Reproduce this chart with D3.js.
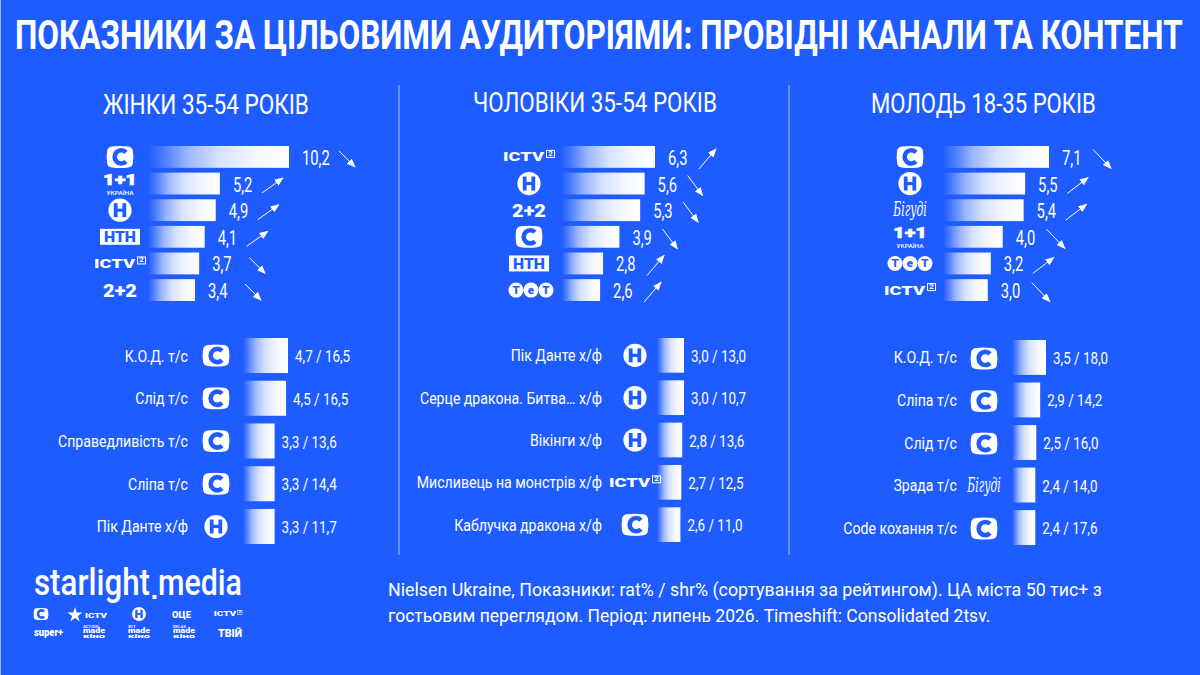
<!DOCTYPE html>
<html><head><meta charset="utf-8">
<script src="https://cdn.jsdelivr.net/npm/d3@7"></script>
<style>html,body{margin:0;padding:0;background:#1f5cff;overflow:hidden}svg{display:block}text{font-family:Roboto,sans-serif;fill:#fff}</style>
</head><body><svg id="c" width="1200" height="675"></svg>
<script>
const chartTitle="ПОКАЗНИКИ ЗА ЦІЛЬОВИМИ АУДИТОРІЯМИ: ПРОВІДНІ КАНАЛИ ТА КОНТЕНТ";
const audiences=["ЖІНКИ 35-54 РОКІВ","ЧОЛОВІКИ 35-54 РОКІВ","МОЛОДЬ 18-35 РОКІВ"];
const womenChannels=["С","1+1","Н","НТН","ICTV2","2+2"];
const womenRatings=[10.2,5.2,4.9,4.1,3.7,3.4];
const womenTrends=["down","up","up","up","down","down"];
const menChannels=["ICTV2","Н","2+2","С","НТН","ТЕТ"];
const menRatings=[6.3,5.6,5.3,3.9,2.8,2.6];
const menTrends=["up","down","down","down","up","up"];
const youthChannels=["С","Н","Бігуді","1+1","ТЕТ","ICTV2"];
const youthRatings=[7.1,5.5,5.4,4.0,3.2,3.0];
const youthTrends=["down","up","up","down","up","down"];
const womenTitles=["К.О.Д. т/с","Слід т/с","Справедливість т/с","Сліпа т/с","Пік Данте х/ф"];
const womenTitleChannels=["С","С","С","С","Н"];
const womenTitleRat=[4.7,4.5,3.3,3.3,3.3];
const womenTitleShr=[16.5,16.5,13.6,14.4,11.7];
const menTitles=["Пік Данте х/ф","Серце дракона. Битва… х/ф","Вікінги х/ф","Мисливець на монстрів х/ф","Каблучка дракона х/ф"];
const menTitleChannels=["Н","Н","Н","ICTV2","С"];
const menTitleRat=[3.0,3.0,2.8,2.7,2.6];
const menTitleShr=[13.0,10.7,13.6,12.5,11.0];
const youthTitles=["К.О.Д. т/с","Сліпа т/с","Слід т/с","Зрада т/с","Code кохання т/с"];
const youthTitleChannels=["С","С","С","Бігуді","С"];
const youthTitleRat=[3.5,2.9,2.5,2.4,2.4];
const youthTitleShr=[18.0,14.2,16.0,14.0,17.6];
const footnoteLines=["Nielsen Ukraine, Показники: rat% / shr% (сортування за рейтингом). ЦА міста 50 тис+ з","гостьовим переглядом. Період: липень 2026. Timeshift: Consolidated 2tsv."];

const BLUE="#1f5cff";
const svg=d3.select("#c");
const fmt=v=>v.toFixed(1).replace(".",",");

const defs=svg.append("defs");
const gr=defs.append("linearGradient").attr("id","fade");
[[0,0],[.12,.22],[.28,.55],[.5,.82],[.75,.95],[1,1]].forEach(([o,a])=>gr.append("stop").attr("offset",o).attr("stop-color","#fff").attr("stop-opacity",a));
const mk=defs.append("marker").attr("id","head").attr("markerUnits","userSpaceOnUse").attr("viewBox","0 0 10 10").attr("refX",9).attr("refY",5).attr("markerWidth",9).attr("markerHeight",9).attr("orient","auto");
mk.append("path").attr("d","M0,1L10,5L0,9Z").attr("fill","#fff");

function fitText(p,str,x,y,width,size,weight,anchor){
  const t=p.append("text").text(str).attr("font-size",size).attr("font-weight",weight||400);
  const w=t.node().getComputedTextLength();
  const sx=width/w;
  t.attr("text-anchor",anchor||"start").attr("transform",`translate(${x},${y}) scale(${sx},1)`);
  return t;
}
function sText(p,str,x,y,size,sx,anchor,weight){
  return p.append("text").text(str).attr("font-size",size).attr("font-weight",weight||400)
    .attr("text-anchor",anchor||"start").attr("transform",`translate(${x},${y}) scale(${sx},1)`);
}

function logo(parent,name,cx,cy,k){
  const g=parent.append("g").attr("transform",`translate(${cx},${cy}) scale(${k||1})`);
  if(name==="С"){
    g.append("path").attr("fill","#fff").attr("d","M-8,-10.5Q0,-11.5 8,-10.5Q13,-10 13,-5Q13.8,0 13,5Q13,10 8,10.5Q0,11.5 -8,10.5Q-13,10 -13,5Q-13.8,0 -13,-5Q-13,-10 -8,-10.5Z");
    g.append("path").attr("fill","none").attr("stroke",BLUE).attr("stroke-width",4.6).attr("d","M6,-4.6A6.6,6.6 0 1 0 6,4.6");
  } else if(name==="Н"){
    g.append("circle").attr("r",11.6).attr("fill","#fff");
    g.append("rect").attr("x",-6.2).attr("y",-7).attr("width",3.8).attr("height",14).attr("fill",BLUE);
    g.append("rect").attr("x",2.4).attr("y",-7).attr("width",3.8).attr("height",14).attr("fill",BLUE);
    g.append("rect").attr("x",-3).attr("y",-1.6).attr("width",6).attr("height",3.2).attr("fill",BLUE);
  } else if(name==="НТН"){
    g.append("rect").attr("x",-20).attr("y",-8).attr("width",40).attr("height",16).attr("fill","#fff");
    fitText(g,"НТН",0,5.5,32,15,900,"middle").style("fill",BLUE);
  } else if(name==="1+1"){
    fitText(g,"1+1",0,1.5,34,15.5,900,"middle").attr("stroke","#fff").attr("stroke-width",.6);
    fitText(g,"УКРАЇНА",0,11,27,5,500,"middle");
  } else if(name==="ICTV2"){
    fitText(g,"ICTV",-26,4.5,41,12,900);
    g.append("rect").attr("x",17.5).attr("y",-6.5).attr("width",8).attr("height",7).attr("fill","none").attr("stroke","#fff").attr("stroke-width",1);
    fitText(g,"2",21.5,-1,4.5,7,700,"middle");
  } else if(name==="2+2"){
    fitText(g,"2+2",0,6.5,34,18.5,900,"middle");
  } else if(name==="ТЕТ"){
    [-15,0,15].forEach((dx,i)=>{
      g.append("circle").attr("cx",dx).attr("r",7.5).attr("fill","#fff");
      g.append("text").text(i===1?"е":"Т").attr("x",dx).attr("y",4).attr("font-size",11.5).attr("font-weight",900).attr("text-anchor","middle").style("fill",BLUE);
    });
  } else if(name==="Бігуді"){
    fitText(g,"Бігуді",0,6,28,21,400,"middle").attr("font-style","italic").style("font-family","'DejaVu Serif',serif");
  }
  return g;
}

fitText(svg,chartTitle,15,49,1168,41,700);
svg.append("rect").attr("width",1).attr("height",675).attr("fill","#9fb6e8");

const panels=[
 {h:[103,114,206],ch:womenChannels,r:womenRatings,tr:womenTrends,logoX:120,x0:148,topMax:141,upDx:42,upW:21,upH:15,dnDx:50,dnW:16,dnH:16,
  titles:womenTitles,tc:womenTitleChannels,tr2:womenTitleRat,ts:womenTitleShr,labelX:188,lgX:216,bx0:243,bMax:45,lo:[338,544]},
 {h:[473,112,244],ch:menChannels,r:menRatings,tr:menTrends,logoX:529,x0:561.5,topMax:93.5,upDx:44,upW:17,upH:20,dnDx:43,dnW:15,dnH:20,
  titles:menTitles,tc:menTitleChannels,tr2:menTitleRat,ts:menTitleShr,labelX:602,lgX:635,bx0:657,bMax:27,lo:[338,542]},
 {h:[871,113,225],ch:youthChannels,r:youthRatings,tr:youthTrends,logoX:910,x0:943,topMax:106,upDx:42,upW:21,upH:16,dnDx:44,dnW:18,dnH:19,
  titles:youthTitles,tc:youthTitleChannels,tr2:youthTitleRat,ts:youthTitleShr,labelX:957,lgX:984,bx0:1012,bMax:34,lo:[340,545]}
];

panels.forEach((p,idx)=>{
  const g=svg.append("g");
  fitText(g,audiences[idx],p.h[0],p.h[1],p.h[2],28,400);
  const x=d3.scaleLinear().domain([0,d3.max(p.r)]).range([p.x0,p.x0+p.topMax]);
  const y=d3.scaleBand().domain(p.ch).range([146,301]).paddingInner(.18);
  g.selectAll("rect.top").data(p.ch).join("rect").attr("class","top")
    .attr("x",p.x0).attr("y",d=>y(d)).attr("height",y.bandwidth())
    .attr("width",(d,i)=>x(p.r[i])-p.x0).attr("fill","url(#fade)");
  p.ch.forEach((d,i)=>{
    const cy=y(d)+y.bandwidth()/2, end=x(p.r[i]);
    logo(g,d,d==="ТЕТ"&&idx===1?p.logoX+2:p.logoX,cy,1);
    sText(g,fmt(p.r[i]),end+13,cy+8,20.5,.72);
    const up=p.tr[i]==="up", dx=up?p.upDx:p.dnDx, w=up?p.upW:p.dnW, h=up?p.upH:p.dnH;
    const mid=cy+2;
    g.append("line").attr("x1",end+dx).attr("x2",end+dx+w)
      .attr("y1",up?mid+h/2:mid-h/2).attr("y2",up?mid-h/2:mid+h/2)
      .attr("stroke","#fff").attr("stroke-width",1).attr("marker-end","url(#head)");
  });
  const xb=d3.scaleLinear().domain([0,d3.max(p.tr2)]).range([p.bx0,p.bx0+p.bMax]);
  const yb=d3.scaleBand().domain(p.titles).range(p.lo).paddingInner(.18);
  g.selectAll("rect.low").data(p.titles).join("rect").attr("class","low")
    .attr("x",p.bx0).attr("y",d=>yb(d)).attr("height",yb.bandwidth())
    .attr("width",(d,i)=>xb(p.tr2[i])-p.bx0).attr("fill","url(#fade)");
  p.titles.forEach((d,i)=>{
    const cy=yb(d)+yb.bandwidth()/2;
    sText(g,d,p.labelX,cy+6,17,.83,"end");
    logo(g,p.tc[i],p.lgX,cy+(idx===2?1:0),1);
    sText(g,`${fmt(p.tr2[i])} / ${fmt(p.ts[i])}`,xb(p.tr2[i])+7,cy+6.5,17,.79);
  });
});

[399,789].forEach(v=>svg.append("line").attr("x1",v).attr("x2",v).attr("y1",85).attr("y2",555).attr("stroke","#a9c0ff").attr("stroke-width",1));

fitText(svg,footnoteLines[0],388,596,714,18.5,400);
fitText(svg,footnoteLines[1],388,622,603,18.5,400);

const b=svg.append("g");
fitText(b,"starlight",34,595,116,37,500);
b.append("rect").attr("x",152.5).attr("y",595).attr("width",4).attr("height",4).attr("fill","#fff");
fitText(b,"media",158,595,84,37,500);
logo(b,"С",41,614,.55);
b.append("path").attr("fill","#fff").attr("d",d3.symbol(d3.symbolStar,70)()).attr("transform","translate(75,615)");
fitText(b,"ICTV",85,618,22,8,900);
logo(b,"Н",139,614,.6);
fitText(b,"ОЦЕ",172,618,19,9,900);
logo(b,"ICTV2",228,614,.55);
fitText(b,"super+",34,636,29,10,900);
[[94,"ACTION"],[139,"ХІТ"],[184,"RELAX"]].forEach(([cx,s])=>{
  fitText(b,s,cx-11,628,s.length*2.6,3.6,500);
  fitText(b,"made",cx,633,22,7,900,"middle");
  fitText(b,"кіно",cx,638,22,6,900,"middle");
});
fitText(b,"ТВІЙ",230,637,24,11,900,"middle");
</script></body></html>
